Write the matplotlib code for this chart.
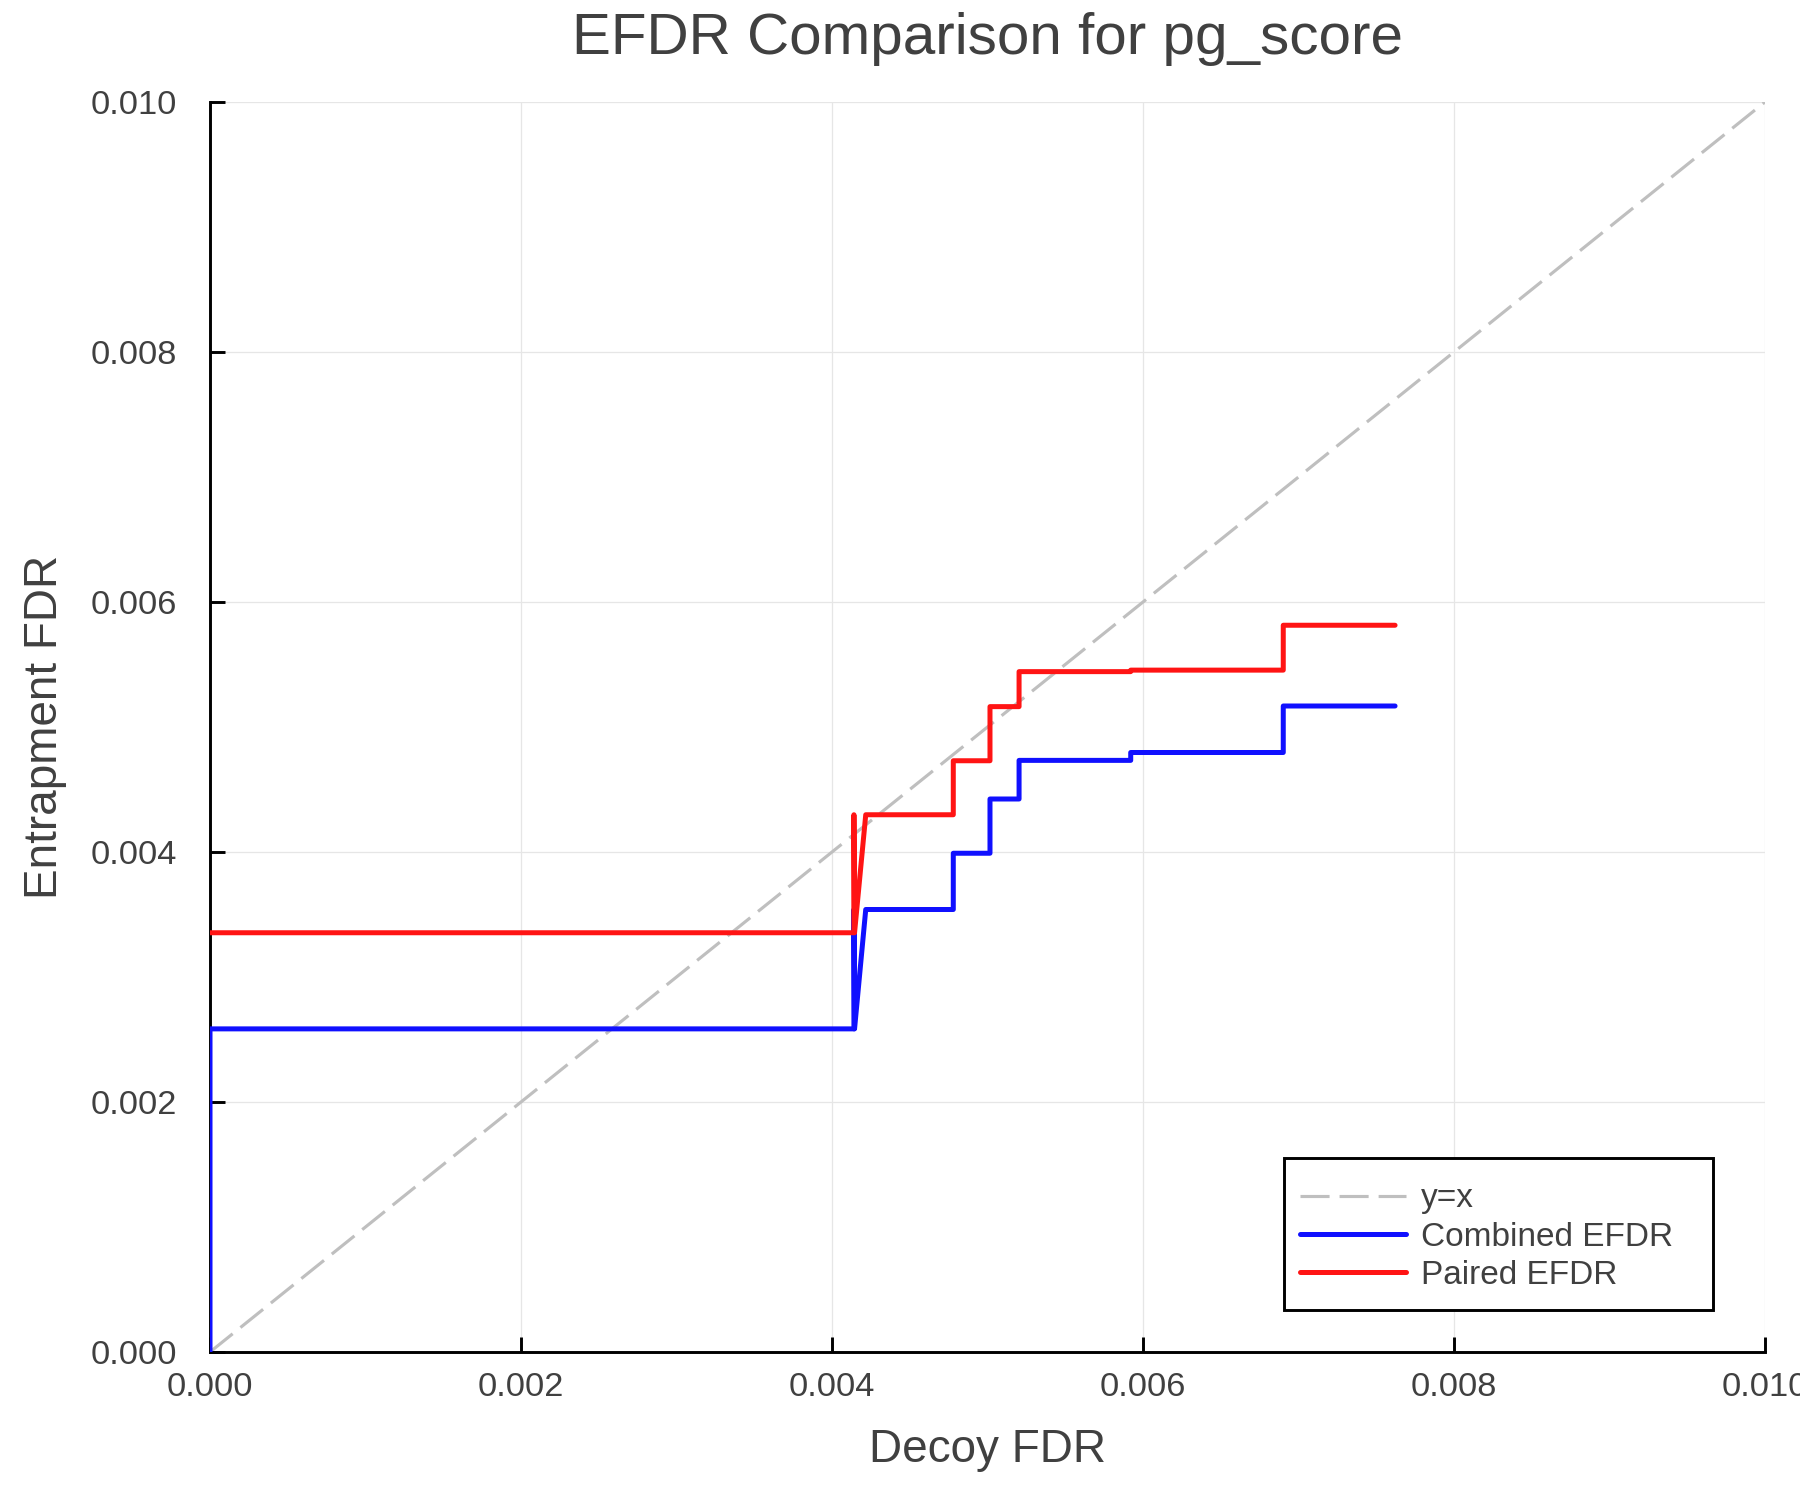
import matplotlib
matplotlib.use("Agg")
import matplotlib.pyplot as plt
from matplotlib.patches import Rectangle

plt.rcParams['font.family'] = ['Liberation Sans', 'DejaVu Sans']

# ---- data ----
diag_x = [0.0, 0.010]
diag_y = [0.0, 0.010]

combined_decoy_fdr = [0.0, 0.0, 0.004141, 0.004141, 0.004145, 0.004217, 0.004780, 0.004780,
                      0.005016, 0.005016, 0.005203, 0.005203, 0.005921, 0.005921,
                      0.006902, 0.006902, 0.007621]
combined_efdr = [0.0, 0.002585, 0.002585, 0.003540, 0.002585, 0.003540, 0.003540, 0.003990,
                 0.003990, 0.004424, 0.004424, 0.004733, 0.004733, 0.004796,
                 0.004796, 0.005168, 0.005168]

paired_decoy_fdr = [0.0, 0.004141, 0.004141, 0.004145, 0.004217, 0.004780, 0.004780,
                    0.005016, 0.005016, 0.005203, 0.005203, 0.005921, 0.005921,
                    0.006902, 0.006902, 0.007621]
paired_efdr = [0.003354, 0.003354, 0.004298, 0.003354, 0.004298, 0.004298, 0.004730,
               0.004730, 0.005163, 0.005163, 0.005443, 0.005443, 0.005455,
               0.005455, 0.005814, 0.005814]

ticks = [0.000, 0.002, 0.004, 0.006, 0.008, 0.010]
tick_labels = ["0.000", "0.002", "0.004", "0.006", "0.008", "0.010"]

title = "EFDR Comparison for pg_score"
xlabel = "Decoy FDR"
ylabel = "Entrapment FDR"

# ---- figure ----
text_color = '#404040'
fig = plt.figure(figsize=(12, 10), dpi=150)
ax = fig.add_axes([210/1800, 1 - 1352/1500, (1765-210)/1800, (1352-102)/1500])

ax.plot(diag_x, diag_y, color='#bfbfbf', lw=1.5, dashes=(9.3, 3.2), label='y=x', zorder=2)
ax.plot(combined_decoy_fdr, combined_efdr, color='#1010ff', lw=2.4, label='Combined EFDR',
        solid_capstyle='round', zorder=3)
ax.plot(paired_decoy_fdr, paired_efdr, color='#ff1414', lw=2.4, label='Paired EFDR',
        solid_capstyle='round', zorder=3)

ax.set_xlim(0, 0.010)
ax.set_ylim(0, 0.010)
ax.set_xticks(ticks)
ax.set_xticklabels(tick_labels)
ax.set_yticks(ticks)
ax.set_yticklabels(tick_labels)

ax.grid(True, color='#e6e6e6', lw=0.6, zorder=0)
ax.set_axisbelow(True)
for s in ['top', 'right']:
    ax.spines[s].set_visible(False)
for s in ['left', 'bottom']:
    ax.spines[s].set_linewidth(1.4)
    ax.spines[s].set_color('black')

ax.tick_params(axis='both', direction='in', length=7, width=1.4, colors='black',
               labelcolor=text_color, labelsize=16.5)
ax.tick_params(axis='x', pad=9.5)
ax.tick_params(axis='y', pad=16)
ax.xaxis.set_ticks_position('bottom')
ax.yaxis.set_ticks_position('left')

ax.set_title(title, fontsize=28, color=text_color, pad=23)
ax.set_xlabel(xlabel, fontsize=22, color=text_color, labelpad=12)
ax.set_ylabel(ylabel, fontsize=22, color=text_color, labelpad=11)

leg = ax.legend(loc='center left', bbox_to_anchor=((1300-210)/1555, (1352-1237)/1250),
                borderaxespad=0, borderpad=0, fontsize=16, frameon=False,
                handlelength=3.17, handletextpad=0.45, labelspacing=0.22)
for t in leg.get_texts():
    t.set_color(text_color)

frame_x0, frame_x1 = (1284-210)/1555, (1713-210)/1555
frame_y0, frame_y1 = (1352-1310)/1250, (1352-1158)/1250
ax.add_patch(Rectangle((frame_x0, frame_y0), frame_x1 - frame_x0, frame_y1 - frame_y0,
                       transform=ax.transAxes, facecolor='white', edgecolor='black',
                       lw=1.4, zorder=4))
leg.set_zorder(5)

fig.savefig('out.png', dpi=150, facecolor='white')
